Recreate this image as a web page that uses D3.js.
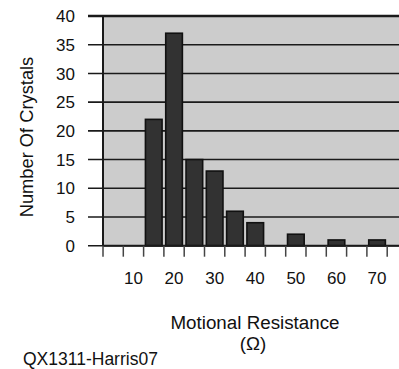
<!DOCTYPE html>
<html>
<head>
<meta charset="utf-8">
<script src="https://cdn.jsdelivr.net/npm/d3@7"></script>
<style>
  html, body { margin: 0; padding: 0; background: #ffffff; }
  svg { display: block; font-family: "Liberation Sans", Arial, sans-serif; }
</style>
</head>
<body>
<svg id="chart" width="399" height="369"></svg>
<script>
// Data
const categories = ["5", "10", "15", "20", "25", "30", "35", "40", "45", "50", "55", "60", "65", "70"];
const counts     = [0, 0, 22, 37, 15, 13, 6, 4, 0, 2, 0, 1, 0, 1];
const shownLabels = ["10", "20", "30", "40", "50", "60", "70"];
const yTicks = [0, 5, 10, 15, 20, 25, 30, 35, 40];
const yTitle = "Number Of Crystals";
const xTitle = "Motional Resistance";
const xUnit = "(Ω)";
const footer = "QX1311-Harris07";

const svg = d3.select("#chart");
const plotLeft = 103, plotTop = 16, plotBottom = 245.7;
const binW = 20.3;
const x = d3.scaleBand().domain(categories).range([plotLeft, plotLeft + binW * categories.length]).padding(0);
const y = d3.scaleLinear().domain([0, 40]).range([plotBottom, plotTop]);

// plot background (extends past the right edge, as in the reference)
svg.append("rect")
  .attr("x", plotLeft).attr("y", plotTop)
  .attr("width", 420 - plotLeft).attr("height", plotBottom - plotTop)
  .attr("fill", "#cccccc");

// gridlines + y ticks
svg.append("g").selectAll("line").data(yTicks).join("line")
  .attr("x1", 88).attr("x2", 420)
  .attr("y1", d => y(d)).attr("y2", d => y(d))
  .attr("stroke", "#1a1a1a").attr("stroke-width", d => d === 40 ? 2.5 : 1.6);

// y tick labels
svg.append("g").selectAll("text").data(yTicks).join("text")
  .attr("x", 75).attr("y", d => y(d)).attr("dy", "0.36em")
  .attr("text-anchor", "end").attr("font-size", 17).attr("fill", "#111")
  .text(d => d);

// bars
const barW = x.bandwidth() * 0.82;
svg.append("g").selectAll("rect").data(categories.map((c, i) => ({c, v: counts[i]})).filter(d => d.v > 0)).join("rect")
  .attr("x", d => x(d.c) + (x.bandwidth() - barW) / 2)
  .attr("y", d => y(d.v))
  .attr("width", barW)
  .attr("height", d => y(0) - y(d.v))
  .attr("fill", "#323232")
  .attr("stroke", "#111")
  .attr("stroke-width", 1.6);

// left border
svg.append("line")
  .attr("x1", plotLeft).attr("x2", plotLeft).attr("y1", plotTop).attr("y2", plotBottom)
  .attr("stroke", "#1a1a1a").attr("stroke-width", 2);

// x axis line
svg.append("line")
  .attr("x1", plotLeft).attr("x2", 420).attr("y1", plotBottom).attr("y2", plotBottom)
  .attr("stroke", "#1a1a1a").attr("stroke-width", 2);

// x ticks at bin boundaries
const boundaries = categories.map(c => x(c)).concat([x(categories[categories.length - 1]) + x.bandwidth()]);
svg.append("g").selectAll("line").data(boundaries).join("line")
  .attr("x1", d => d).attr("x2", d => d)
  .attr("y1", plotBottom).attr("y2", plotBottom + 11)
  .attr("stroke", "#444").attr("stroke-width", 1.5);

// x tick labels
svg.append("g").selectAll("text").data(shownLabels).join("text")
  .attr("x", d => x(d) + x.bandwidth() / 2).attr("y", 284)
  .attr("text-anchor", "middle").attr("font-size", 17).attr("fill", "#111")
  .text(d => d);

// axis titles
svg.append("text")
  .attr("transform", "translate(33,137) rotate(-90)")
  .attr("text-anchor", "middle").attr("font-size", 18.3).attr("fill", "#111")
  .text(yTitle);

svg.append("text")
  .attr("x", 255).attr("y", 329)
  .attr("text-anchor", "middle").attr("font-size", 18.8).attr("fill", "#111")
  .text(xTitle);

svg.append("text")
  .attr("x", 253).attr("y", 350)
  .attr("text-anchor", "middle").attr("font-size", 18.8).attr("fill", "#111")
  .text(xUnit);

svg.append("text")
  .attr("x", 23).attr("y", 365)
  .attr("text-anchor", "start").attr("font-size", 17.5).attr("fill", "#111")
  .text(footer);
</script>
</body>
</html>
